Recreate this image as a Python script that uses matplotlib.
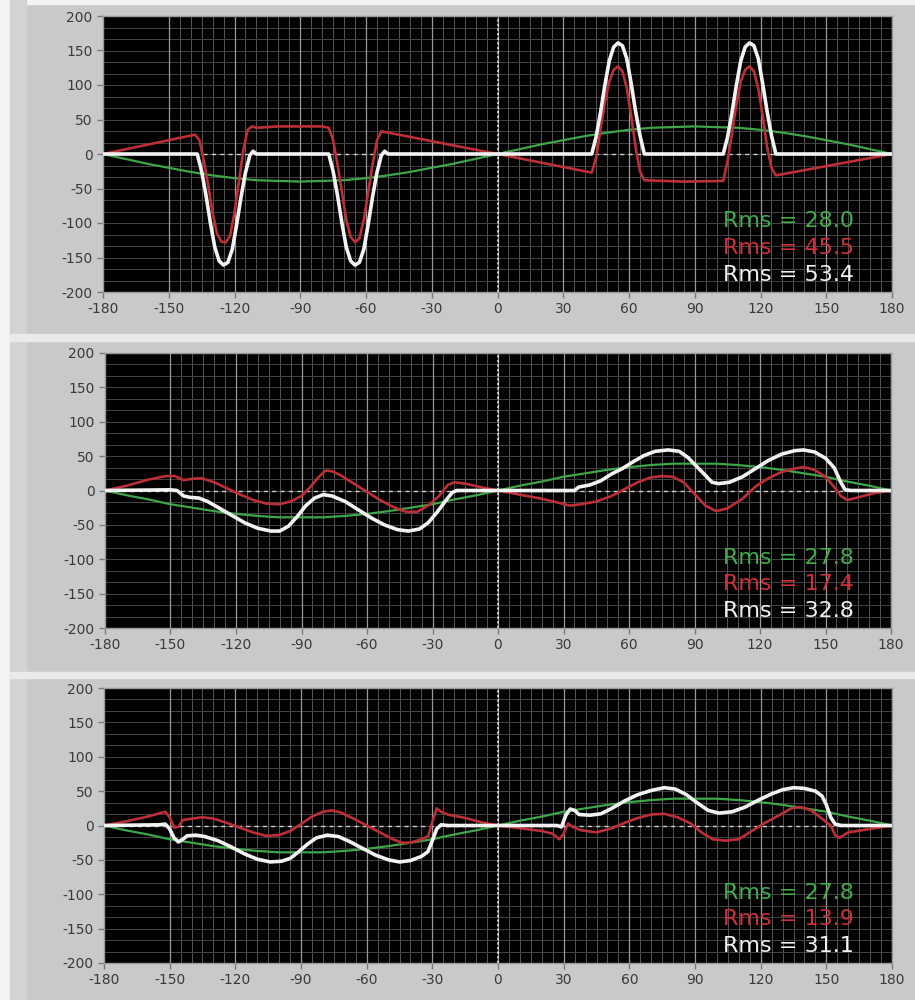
import numpy as np
import matplotlib
matplotlib.use("Agg")
import matplotlib.pyplot as plt
from matplotlib.patches import Rectangle

plt.rcParams["axes.unicode_minus"] = False

# ---- data (angle in deg, value) ----
green_x = list(range(-180, 181, 10))
green_top = [0, -7, -14, -20, -26, -31, -35, -38, -39, -40, -39, -38, -35, -31, -26, -20, -14, -7, 0,
             7, 14, 20, 26, 31, 35, 38, 39, 40, 39, 38, 35, 31, 26, 20, 14, 7, 0]
green_mid = [0, -7, -13, -20, -25, -30, -34, -37, -39, -39, -39, -37, -34, -30, -25, -20, -13, -7, 0,
             7, 13, 20, 25, 30, 34, 37, 39, 39, 39, 37, 34, 30, 25, 20, 13, 7, 0]
green_bot = green_mid

white_top_x = [-180, -137, -135, -133, -131, -129, -127, -125, -123, -121, -119, -117, -115, -113, -111.5, -110,
               -77, -75, -73, -71, -69, -67, -65, -63, -61, -59, -57, -55, -53, -51.5, -50,
               43, 45, 47, 49, 51, 53, 55, 57, 59, 61, 63, 65, 67,
               103, 105, 107, 109, 111, 113, 115, 117, 119, 121, 123, 125, 127, 180]
white_top_y = [0, 0, -25, -60, -100, -135, -155, -161, -157, -138, -102, -62, -27, -2, 4, 0,
               0, -25, -60, -100, -135, -155, -161, -157, -138, -102, -62, -27, -2, 4, 0,
               0, 25, 60, 100, 135, 155, 161, 157, 138, 102, 62, 27, 0,
               0, 25, 60, 100, 135, 155, 161, 157, 138, 102, 62, 27, 0, 0]

red_top_x = [-180, -138, -136, -134, -132, -130, -128, -126, -124, -122, -120, -118, -116, -114, -112, -110,
             -100, -90, -80, -77, -75, -73, -71, -69, -67, -65, -63, -61, -59, -57, -55, -53, -50, 0,
             43, 45, 47, 49, 51, 53, 55, 57, 59, 61, 63, 65, 67, 85, 103,
             105, 107, 109, 111, 113, 115, 117, 119, 121, 123, 125, 127, 180]
red_top_y = [0, 28, 20, -10, -45, -85, -115, -127, -128, -118, -85, -40, 5, 35, 40, 38,
             40, 40, 40, 38, 20, -15, -55, -95, -120, -128, -122, -95, -55, -15, 20, 33, 31, 0,
             -27, -5, 35, 75, 105, 122, 127, 120, 95, 55, 10, -25, -38, -40, -39,
             -10, 30, 72, 105, 122, 127, 120, 95, 55, 10, -20, -31, 0]

white_mid_x = [-180, -150, -147, -144, -141, -137, -133, -128, -122, -116, -110, -104, -100, -96, -92, -88,
               -84, -80, -76, -70, -64, -58, -52, -46, -41, -36, -32, -28, -24, -21, -19, 0,
               35, 37, 42, 47, 52, 57, 62, 67, 72, 78, 83, 87, 91, 95, 98, 101, 106, 112, 118,
               124, 130, 136, 140, 145, 150, 154, 157, 159, 162, 180]
white_mid_y = [0, 1, 0, -8, -10, -11, -16, -25, -36, -47, -55, -59, -59, -52, -38, -22,
               -11, -6, -8, -16, -28, -40, -50, -57, -59, -56, -47, -32, -15, -3, 0, 0,
               0, 5, 8, 14, 24, 32, 42, 51, 57, 59, 57, 48, 35, 22, 12, 10, 12, 20, 32,
               44, 53, 58, 59, 56, 47, 33, 12, 1, 0, 0]

red_mid_x = [-180, -170, -160, -152, -148, -144, -140, -136, -130, -124, -118, -112, -106, -100, -95, -90,
             -86, -82, -79, -76, -72, -66, -60, -54, -48, -42, -37, -32, -27, -23, -20, -15, -8, 0,
             10, 20, 28, 33, 38, 45, 52, 58, 64, 70, 75, 80, 85, 90, 95, 100, 105, 112, 118,
             124, 130, 136, 140, 145, 150, 154, 157, 160, 165, 172, 180]
red_mid_y = [0, 7, 16, 21, 21, 15, 17, 18, 12, 3, -6, -14, -19, -20, -16, -8,
             5, 20, 29, 28, 22, 10, -2, -14, -24, -31, -31, -22, -8, 8, 12, 10, 5, 0,
             -6, -12, -18, -22, -20, -16, -8, 2, 12, 19, 21, 20, 12, -5, -22, -30, -26, -12, 6,
             18, 27, 32, 34, 30, 20, 5, -8, -14, -10, -4, 0]

white_bot_x = [-180, -155, -152, -150, -148, -146, -144, -142, -138, -134, -128, -122, -116, -110, -104, -99,
               -95, -91, -87, -83, -78, -73, -68, -62, -56, -50, -45, -40, -35, -32, -30, -28, -26, -23,
               0, 27, 29, 31, 33, 35, 37, 42, 47, 52, 58, 64, 70, 76, 81, 86, 91, 96, 101, 107, 113,
               119, 125, 130, 135, 140, 145, 148, 150, 152, 154, 157, 180]
white_bot_y = [0, 1, 2, -5, -18, -24, -20, -15, -14, -16, -22, -31, -41, -49, -53, -52,
               -48, -38, -27, -18, -14, -16, -23, -33, -43, -50, -53, -51, -45, -38, -22, -5, 1, 0,
               0, 0, -2, 15, 24, 22, 16, 15, 17, 25, 36, 45, 51, 55, 53, 45, 33, 22, 18, 20, 27,
               37, 46, 52, 55, 54, 50, 43, 30, 12, 2, 0, 0]

red_bot_x = [-180, -170, -160, -152, -150, -148, -146, -144, -140, -135, -130, -124, -118, -112, -106, -100,
             -95, -90, -85, -80, -76, -72, -66, -60, -54, -48, -44, -40, -35, -32, -30, -28, -26, -23,
             -15, -8, 0, 10, 20, 25, 28, 30, 32, 34, 38, 45, 52, 58, 64, 70, 76, 82, 88, 93, 98,
             104, 110, 116, 122, 128, 134, 138, 143, 148, 152, 154, 156, 160, 168, 180]
red_bot_y = [0, 6, 13, 20, 12, -3, -2, 8, 10, 12, 10, 4, -3, -10, -15, -14,
             -8, 2, 13, 20, 22, 19, 10, 0, -10, -20, -25, -25, -20, -16, 5, 25, 20, 16,
             11, 5, 0, -4, -8, -12, -20, -12, 3, -2, -7, -10, -4, 4, 11, 16, 17, 12, 3, -10, -20,
             -22, -20, -8, 4, 14, 25, 27, 22, 10, 0, -14, -18, -10, -6, 0]

rms_labels = [("28.0", "45.5", "53.4"), ("27.8", "17.4", "32.8"), ("27.8", "13.9", "31.1")]

panels = [
    (green_top, white_top_x, white_top_y, red_top_x, red_top_y),
    (green_mid, white_mid_x, white_mid_y, red_mid_x, red_mid_y),
    (green_bot, white_bot_x, white_bot_y, red_bot_x, red_bot_y),
]

GREEN = "#3ea648"
RED = "#bd2f37"
WHITE = "#f2f2f2"
TXT_GREEN = "#3fae4c"
TXT_RED = "#d0303a"

W, H = 915, 1000
fig = plt.figure(figsize=(W / 100, H / 100), dpi=100)
fig.patch.set_facecolor("#c8c9cb")


def px_rect(x0, y0, x1, y1, color):
    # rectangle in pixel coords (y from top)
    fig.patches.append(Rectangle((x0 / W, 1 - y1 / H), (x1 - x0) / W, (y1 - y0) / H,
                                 transform=fig.transFigure, color=color, zorder=0))


# panel frame decorations
px_rect(0, 0, W, 4, "#f4f4f4")
px_rect(0, 0, 10, H, "#f4f4f4")
px_rect(10, 0, 26, H, "#d2d3d5")
px_rect(10, 334, W, 341, "#e9eaeb")
px_rect(10, 672, W, 678, "#e9eaeb")

# axes boxes in pixels: left, top, right, bottom
boxes = [(103, 16, 892, 292), (105, 353, 891, 628), (104, 688, 892, 963)]

for (l, t, r, b), (g_y, wx, wy, rx, ry), labels in zip(boxes, panels, rms_labels):
    ax = fig.add_axes([l / W, 1 - b / H, (r - l) / W, (b - t) / H])
    ax.set_facecolor("black")
    ax.set_xlim(-180, 180)
    ax.set_ylim(-200, 200)

    # grid
    for v in np.arange(-150, 181, 5):
        ax.axvline(v, color="#555555", lw=0.7, zorder=1)
    for v in np.arange(-200, 201, 50 / 3):
        ax.axhline(v, color="#444444", lw=0.7, zorder=1)
    for v in range(-150, 181, 30):
        ax.axvline(v, color="#9a9a9a", lw=0.9, zorder=1)
    ax.axhline(0, color="#cfcfcf", lw=1.0, ls=(0, (3, 3)), zorder=2)
    ax.axvline(0, color="#eeeeee", lw=1.1, ls=(0, (1.5, 1.5)), zorder=2)

    ax.plot(green_x, g_y, color=GREEN, lw=1.6, zorder=3)
    ax.plot(rx, ry, color=RED, lw=1.9, zorder=4)
    ax.plot(wx, wy, color=WHITE, lw=2.6, zorder=5)

    for txt, col, yy in zip(labels, (TXT_GREEN, TXT_RED, WHITE), (0.256, 0.16, 0.062)):
        ax.text(0.786, yy, f"Rms = {txt}", transform=ax.transAxes, color=col,
                fontsize=16, ha="left", va="center", zorder=6)

    ax.set_xticks(range(-180, 181, 30))
    ax.set_yticks(range(-200, 201, 50))
    ax.tick_params(axis="both", colors="#7a7a7a", labelcolor="#3a3a3a", labelsize=10,
                   length=4, width=1)
    ax.tick_params(axis="x", pad=3)
    for s in ax.spines.values():
        s.set_color("#9a9a9a")
        s.set_linewidth(1)

fig.savefig("out.png", dpi=100, facecolor=fig.get_facecolor())
